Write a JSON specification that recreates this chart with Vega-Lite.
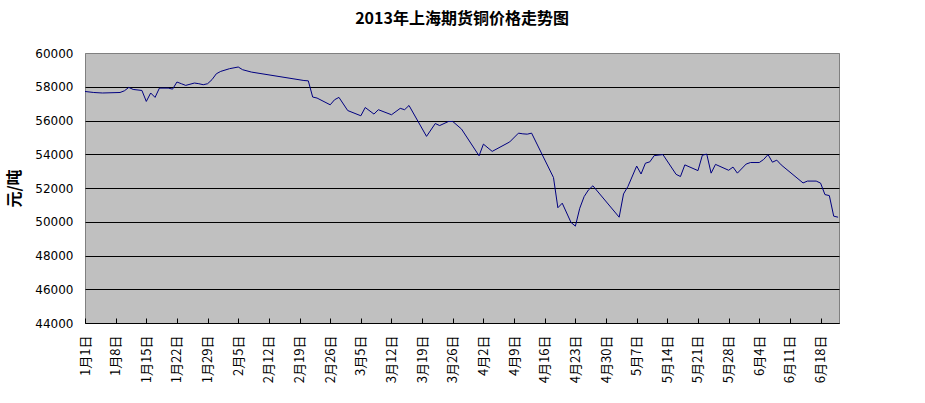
{
  "$schema": "https://vega.github.io/schema/vega-lite/v6.json",
  "width": 754,
  "height": 270,
  "autosize": {"type": "none"},
  "padding": {"left": 85, "top": 53, "right": 86, "bottom": 80},
  "background": "white",
  "title": {"text": "2013年上海期货铜价格走势图", "font": "Noto Sans CJK SC", "fontSize": 16, "fontWeight": "bold", "color": "black", "offset": 20, "anchor": "middle"},
  "config": {"view": {"fill": "#C0C0C0", "stroke": "#808080", "strokeWidth": 1}},
  "data": {"values": [
    {"date": "2013-01-01", "price": 57720},
    {"date": "2013-01-03", "price": 57660},
    {"date": "2013-01-05", "price": 57630},
    {"date": "2013-01-09", "price": 57660},
    {"date": "2013-01-10", "price": 57760},
    {"date": "2013-01-11", "price": 57960},
    {"date": "2013-01-12", "price": 57840},
    {"date": "2013-01-14", "price": 57780},
    {"date": "2013-01-15", "price": 57130},
    {"date": "2013-01-16", "price": 57630},
    {"date": "2013-01-17", "price": 57370},
    {"date": "2013-01-18", "price": 57920},
    {"date": "2013-01-20", "price": 57920},
    {"date": "2013-01-21", "price": 57860},
    {"date": "2013-01-22", "price": 58280},
    {"date": "2013-01-23", "price": 58180},
    {"date": "2013-01-24", "price": 58080},
    {"date": "2013-01-26", "price": 58220},
    {"date": "2013-01-27", "price": 58180},
    {"date": "2013-01-28", "price": 58120},
    {"date": "2013-01-29", "price": 58180},
    {"date": "2013-01-30", "price": 58420},
    {"date": "2013-01-31", "price": 58770},
    {"date": "2013-02-01", "price": 58910},
    {"date": "2013-02-03", "price": 59070},
    {"date": "2013-02-05", "price": 59170},
    {"date": "2013-02-06", "price": 59010},
    {"date": "2013-02-08", "price": 58870},
    {"date": "2013-02-20", "price": 58370},
    {"date": "2013-02-21", "price": 58350},
    {"date": "2013-02-22", "price": 57390},
    {"date": "2013-02-23", "price": 57330},
    {"date": "2013-02-26", "price": 56930},
    {"date": "2013-02-27", "price": 57230},
    {"date": "2013-02-28", "price": 57370},
    {"date": "2013-03-02", "price": 56590},
    {"date": "2013-03-05", "price": 56280},
    {"date": "2013-03-06", "price": 56770},
    {"date": "2013-03-08", "price": 56380},
    {"date": "2013-03-09", "price": 56640},
    {"date": "2013-03-12", "price": 56340},
    {"date": "2013-03-14", "price": 56720},
    {"date": "2013-03-15", "price": 56640},
    {"date": "2013-03-16", "price": 56890},
    {"date": "2013-03-20", "price": 55060},
    {"date": "2013-03-22", "price": 55820},
    {"date": "2013-03-23", "price": 55700},
    {"date": "2013-03-25", "price": 55940},
    {"date": "2013-03-26", "price": 55940},
    {"date": "2013-03-28", "price": 55490},
    {"date": "2013-04-01", "price": 53910},
    {"date": "2013-04-02", "price": 54600},
    {"date": "2013-04-04", "price": 54170},
    {"date": "2013-04-08", "price": 54730},
    {"date": "2013-04-10", "price": 55250},
    {"date": "2013-04-11", "price": 55210},
    {"date": "2013-04-12", "price": 55190},
    {"date": "2013-04-13", "price": 55250},
    {"date": "2013-04-18", "price": 52620},
    {"date": "2013-04-19", "price": 50830},
    {"date": "2013-04-20", "price": 51100},
    {"date": "2013-04-22", "price": 49960},
    {"date": "2013-04-23", "price": 49740},
    {"date": "2013-04-24", "price": 50800},
    {"date": "2013-04-25", "price": 51490},
    {"date": "2013-04-26", "price": 51890},
    {"date": "2013-04-27", "price": 52130},
    {"date": "2013-05-03", "price": 50270},
    {"date": "2013-05-04", "price": 51650},
    {"date": "2013-05-05", "price": 52090},
    {"date": "2013-05-07", "price": 53300},
    {"date": "2013-05-08", "price": 52830},
    {"date": "2013-05-09", "price": 53470},
    {"date": "2013-05-10", "price": 53550},
    {"date": "2013-05-11", "price": 53920},
    {"date": "2013-05-13", "price": 53980},
    {"date": "2013-05-16", "price": 52810},
    {"date": "2013-05-17", "price": 52680},
    {"date": "2013-05-18", "price": 53370},
    {"date": "2013-05-21", "price": 53030},
    {"date": "2013-05-22", "price": 53940},
    {"date": "2013-05-23", "price": 54010},
    {"date": "2013-05-24", "price": 52880},
    {"date": "2013-05-25", "price": 53400},
    {"date": "2013-05-28", "price": 53050},
    {"date": "2013-05-29", "price": 53240},
    {"date": "2013-05-30", "price": 52880},
    {"date": "2013-06-01", "price": 53420},
    {"date": "2013-06-02", "price": 53510},
    {"date": "2013-06-04", "price": 53510},
    {"date": "2013-06-05", "price": 53690},
    {"date": "2013-06-06", "price": 53980},
    {"date": "2013-06-07", "price": 53530},
    {"date": "2013-06-08", "price": 53650},
    {"date": "2013-06-09", "price": 53370},
    {"date": "2013-06-14", "price": 52300},
    {"date": "2013-06-15", "price": 52410},
    {"date": "2013-06-17", "price": 52410},
    {"date": "2013-06-18", "price": 52290},
    {"date": "2013-06-19", "price": 51610},
    {"date": "2013-06-20", "price": 51550},
    {"date": "2013-06-21", "price": 50330},
    {"date": "2013-06-22", "price": 50270}
  ]},
  "mark": {"type": "line", "color": "#000080", "strokeWidth": 1},
  "encoding": {
    "x": {
      "field": "date", "type": "temporal",
      "scale": {"type": "utc", "domain": [
        {"year": 2013, "month": 1, "date": 1, "utc": true},
        {"year": 2013, "month": 6, "date": 22, "hours": 5, "utc": true}
      ]},
      "axis": {
        "values": [
          {"year": 2013, "month": 1, "date": 1, "utc": true},
          {"year": 2013, "month": 1, "date": 8, "utc": true},
          {"year": 2013, "month": 1, "date": 15, "utc": true},
          {"year": 2013, "month": 1, "date": 22, "utc": true},
          {"year": 2013, "month": 1, "date": 29, "utc": true},
          {"year": 2013, "month": 2, "date": 5, "utc": true},
          {"year": 2013, "month": 2, "date": 12, "utc": true},
          {"year": 2013, "month": 2, "date": 19, "utc": true},
          {"year": 2013, "month": 2, "date": 26, "utc": true},
          {"year": 2013, "month": 3, "date": 5, "utc": true},
          {"year": 2013, "month": 3, "date": 12, "utc": true},
          {"year": 2013, "month": 3, "date": 19, "utc": true},
          {"year": 2013, "month": 3, "date": 26, "utc": true},
          {"year": 2013, "month": 4, "date": 2, "utc": true},
          {"year": 2013, "month": 4, "date": 9, "utc": true},
          {"year": 2013, "month": 4, "date": 16, "utc": true},
          {"year": 2013, "month": 4, "date": 23, "utc": true},
          {"year": 2013, "month": 4, "date": 30, "utc": true},
          {"year": 2013, "month": 5, "date": 7, "utc": true},
          {"year": 2013, "month": 5, "date": 14, "utc": true},
          {"year": 2013, "month": 5, "date": 21, "utc": true},
          {"year": 2013, "month": 5, "date": 28, "utc": true},
          {"year": 2013, "month": 6, "date": 4, "utc": true},
          {"year": 2013, "month": 6, "date": 11, "utc": true},
          {"year": 2013, "month": 6, "date": 18, "utc": true}
        ],
        "labelExpr": "(utcmonth(datum.value)+1) + '月' + utcdate(datum.value) + '日'",
        "labelAngle": 270,
        "labelFont": "Noto Sans CJK SC",
        "labelFontSize": 13,
        "labelColor": "black",
        "labelOverlap": false,
        "labelPadding": 17,
        "tickSize": -5,
        "tickColor": "black",
        "domainColor": "black",
        "grid": false,
        "title": null
      }
    },
    "y": {
      "field": "price", "type": "quantitative",
      "scale": {"domain": [44000, 60000], "nice": false, "zero": false},
      "axis": {
        "values": [44000, 46000, 48000, 50000, 52000, 54000, 56000, 58000, 60000],
        "format": "d",
        "grid": true,
        "gridColor": {"condition": {"test": "datum.value == 60000", "value": "#808080"}, "value": "black"},
        "gridOpacity": 1,
        "domain": false,
        "ticks": false,
        "labelFont": "DejaVu Sans",
        "labelFontSize": 12,
        "labelColor": "black",
        "labelPadding": 12,
        "title": "元/吨",
        "titleFont": "Noto Sans CJK SC",
        "titleFontSize": 16,
        "titleFontWeight": "bold",
        "titleColor": "black",
        "titleBaseline": "middle",
        "titleX": -71,
        "titleY": 135
      }
    }
  }
}
